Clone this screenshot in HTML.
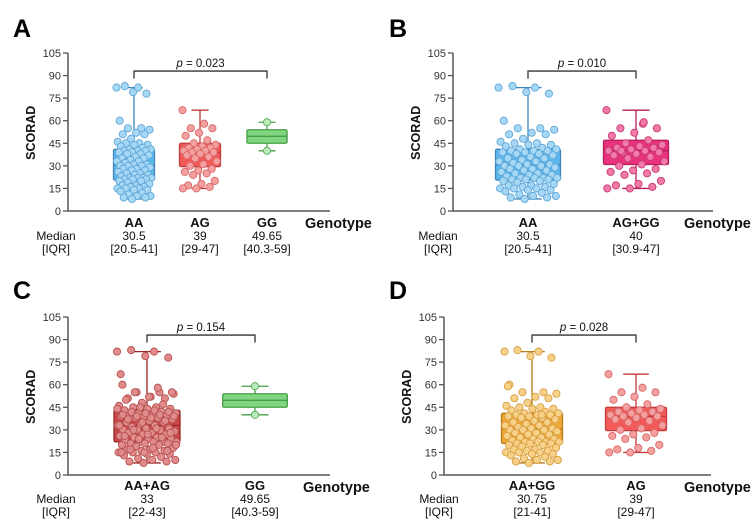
<!DOCTYPE html>
<html><head><meta charset="utf-8"><style>
html,body{margin:0;padding:0;background:#fff;}
svg{display:block;font-family:"Liberation Sans",Arial,sans-serif;}
</style></head><body>
<svg id="fig" width="753" height="527" viewBox="0 0 753 527" xmlns="http://www.w3.org/2000/svg"></svg>
<script>
// ---- data ----
const yTicks = [0,15,30,45,60,75,90,105];
const valsAA = [82,82,83,78,79,60,55,55,54,52,51,51,48,46,45,45,44,44,43,42,41,41,40,40,40,39,39,38,38,37,36,35,35,34,33,33,32,31,31,30,30,30,29,28,28,27,27,26,25,25,24,24,23,22,22,22,22,21,21,21,20,20,19,18,17,17,16,16,15,15,15,14,14,13,12,11,10,10,9,9,8];
const valsAG = [67,58,55,55,52,50,47,45,44,43,42,42,41,40,40,39,39,38,37,36,35,33,31,30,28,27,26,25,24,20,18,17,16,15,15];
const valsGG = [59,40];
const valsAGGG = valsAG.concat(valsGG);
const valsAAAG = valsAA.concat(valsAG);
const valsAAGG = valsAA.concat(valsGG);
// box stats: [whiskerLow, q1, median, q3, whiskerHigh]
const statAA = [8,20.5,30.5,41,82];
const statAG = [15,29.5,39,45,67];
const statGG = [40,45,49.65,54,59];
const statAGGG = [15,30.9,40,47,67];
const statAAAG = [8,22,33,43,82];
const statAAGG = [8,21,30.75,41,82];
const pValues = ["0.023","0.010","0.154","0.028"];
const medianLabels = {AA:"30.5",AG:"39",GG:"49.65",AGGG:"40",AAAG:"33",AAGG:"30.75"};
const iqrLabels = {AA:"[20.5-41]",AG:"[29-47]",GG:"[40.3-59]",AGGG:"[30.9-47]",AAAG:"[22-43]",AAGG:"[21-41]"};

const C = {
  blue:{fill:"#5bb9ee",stroke:"#3f86bd",dot:"#a6d8f5",dotS:"#5fa7d8"},
  red:{fill:"#f25a5a",stroke:"#c23a3a",dot:"#f5a0a0",dotS:"#d96868"},
  green:{fill:"#7fd67f",stroke:"#4a9e4a",dot:"#b9ecb9",dotS:"#5aaa5a"},
  pink:{fill:"#e8337c",stroke:"#b51d5c",dot:"#f27aa8",dotS:"#c83a72"},
  dred:{fill:"#c94848",stroke:"#982626",dot:"#e08c8c",dotS:"#b85050"},
  orange:{fill:"#f0a935",stroke:"#b57a17",dot:"#f7d08a",dotS:"#d8a040"}
};
const panels = [
  {letter:"A",lx:13,ly:37,ax:68,y0:211,xEnd:330,genX:305,genY:228,medX:39,rowY:[227,240,253],bw:41,
   groups:[{name:"AA",key:"AA",cx:134,vals:valsAA,st:statAA,c:C.blue},{name:"AG",key:"AG",cx:200,vals:valsAG,st:statAG,c:C.red},{name:"GG",key:"GG",cx:267,vals:valsGG,st:statGG,c:C.green}],br:[0,2]},
  {letter:"B",lx:389,ly:37,ax:453,y0:211,xEnd:713,genX:684,genY:228,medX:421,rowY:[227,240,253],bw:65,
   groups:[{name:"AA",key:"AA",cx:528,vals:valsAA,st:statAA,c:C.blue},{name:"AG+GG",key:"AGGG",cx:636,vals:valsAGGG,st:statAGGG,c:C.pink}],br:[0,1]},
  {letter:"C",lx:13,ly:299,ax:68,y0:475,xEnd:330,genX:303,genY:492,medX:39,rowY:[490,503,516],bw:66,
   groups:[{name:"AA+AG",key:"AAAG",cx:147,vals:valsAAAG,st:statAAAG,c:C.dred},{name:"GG",key:"GG",cx:255,vals:valsGG,st:statGG,c:C.green}],br:[0,1]},
  {letter:"D",lx:389,ly:299,ax:444,y0:475,xEnd:711,genX:684,genY:492,medX:422,rowY:[490,503,516],bw:61,
   groups:[{name:"AA+GG",key:"AAGG",cx:532,vals:valsAAGG,st:statAAGG,c:C.orange},{name:"AG",key:"AG",cx:636,vals:valsAG,st:statAG,c:C.red}],br:[0,1]}
];
const NS="http://www.w3.org/2000/svg";
const svg=document.getElementById('fig');
function mk(tag,attrs,parent,text){const e=document.createElementNS(NS,tag);for(const k in attrs)e.setAttribute(k,attrs[k]);if(text!==undefined)e.textContent=text;(parent||svg).appendChild(e);return e;}
const PX=158/105;
panels.forEach((p,pi)=>{
  const g=mk('g',{});
  
  
  const yS=v=>p.y0-v*PX;
  let t=mk('text',{x:p.lx,y:p.ly,'font-size':25,'font-weight':'bold',fill:'#000'},g,p.letter);
  
  
  let ax=mk('line',{x1:p.ax,y1:yS(105),x2:p.ax,y2:p.y0,stroke:'#555',"stroke-width":1.5},g);
  
  
  let xa=mk('line',{x1:p.ax,y1:p.y0,x2:p.xEnd,y2:p.y0,stroke:'#555',"stroke-width":1.5},g);
  
  
  yTicks.forEach(v=>{
    mk('line',{x1:p.ax-5,y1:yS(v),x2:p.ax,y2:yS(v),stroke:'#555',"stroke-width":1.3},g);
    let tl=mk('text',{x:p.ax-7,y:yS(v)+4,'font-size':11,'text-anchor':'end',fill:'#333'},g,String(v));
    
    
  });
  const ymid=yS(52);
  let yt=mk('text',{x:0,y:0,'font-size':12.5,'font-weight':'bold','text-anchor':'middle',transform:`translate(${p.ax-33},${ymid}) rotate(-90)`,fill:'#111'},g,'SCORAD');
  
  
  p.groups.forEach(gr=>{
    const st=gr.st,c=gr.c,bw=(gr.vals.length<5?p.bw*0.98:p.bw),cap=bw*0.42;
    const gg=mk('g',{},g);
    
    
    mk('line',{x1:gr.cx,y1:yS(st[4]),x2:gr.cx,y2:yS(st[0]),stroke:c.stroke,'stroke-width':1.3},gg);
    mk('line',{x1:gr.cx-cap/2,y1:yS(st[4]),x2:gr.cx+cap/2,y2:yS(st[4]),stroke:c.stroke,'stroke-width':1.3},gg);
    mk('line',{x1:gr.cx-cap/2,y1:yS(st[0]),x2:gr.cx+cap/2,y2:yS(st[0]),stroke:c.stroke,'stroke-width':1.3},gg);
    mk('rect',{x:gr.cx-bw/2,y:yS(st[3]),width:bw,height:yS(st[1])-yS(st[3]),fill:c.fill,stroke:c.stroke,'stroke-width':1.3,rx:1.5},gg);
    mk('line',{x1:gr.cx-bw/2,y1:yS(st[2]),x2:gr.cx+bw/2,y2:yS(st[2]),stroke:c.stroke,'stroke-width':1.3},gg);
    const n=gr.vals.length;
    gr.vals.forEach((v,i)=>{
      const f=((i*0.6180339887)%1)*2-1;
      const off = n<5?0:f*(bw/2-3);
      const d=mk('circle',{cx:gr.cx+off,cy:yS(v),r:3.6,fill:c.dot,stroke:c.dotS,'stroke-width':0.9},gg);
      
      
    });
    const lab=[gr.name,medianLabels[gr.key],iqrLabels[gr.key]];
    lab.forEach((s,k)=>{
      const tt=mk('text',{x:gr.cx,y:p.rowY[k],'font-size':k==0?13:12,'font-weight':k==0?'bold':'normal','text-anchor':'middle',fill:'#111'},g,s);
      
      
    });
  });
  ['Median','[IQR]'].forEach((s,k)=>{
    const tt=mk('text',{x:p.medX+17,y:p.rowY[k+1],'font-size':12,'text-anchor':'middle',fill:'#111'},g,s);
    
    
  });
  const gt=mk('text',{x:p.genX,y:p.genY,'font-size':14.5,'font-weight':'bold',fill:'#111'},g,'Genotype');
  
  
  const a=p.groups[p.br[0]].cx,b=p.groups[p.br[1]].cx;
  const bg=mk('path',{d:`M${a},${yS(88)}V${yS(93)}H${b}V${yS(88)}`,fill:'none',stroke:'#333','stroke-width':1.3},g);
  
  
  const pt=mk('text',{x:(a+b)/2,y:yS(93)-4,'font-size':11.5,'text-anchor':'middle',fill:'#111'},g);
  
  
  mk('tspan',{'font-style':'italic'},pt,'p');
  mk('tspan',{},pt,' = '+pValues[pi]);
});
</script>
</body></html>
